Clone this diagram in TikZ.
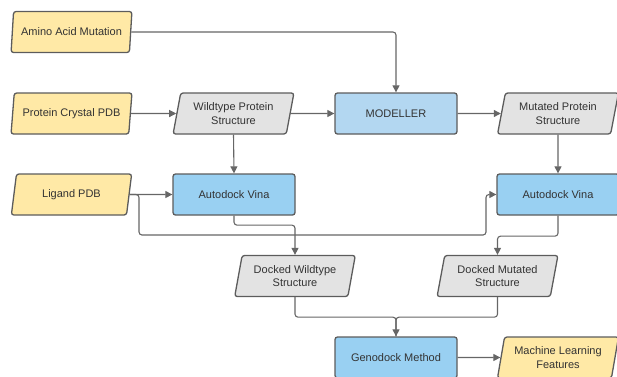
\documentclass[tikz,border=0pt]{standalone}
\usepackage{fontspec}
\setmainfont{Liberation Sans}
\usetikzlibrary{shapes.geometric,arrows.meta}
\definecolor{yel}{HTML}{FFE9A6}
\definecolor{blu}{HTML}{99D0F2}
\definecolor{lblu}{HTML}{B3D7F1}
\definecolor{gry}{HTML}{E3E3E3}
\definecolor{bord}{HTML}{5C5C5C}
\definecolor{txt}{HTML}{333333}
\definecolor{conn}{HTML}{666666}
\tikzset{
  base/.style={draw=bord, line width=1.3pt, rounded corners=2.5pt, text=txt,
    font=\fontsize{11}{13.5}\selectfont, align=center, inner sep=0pt},
  para/.style={base, trapezium, trapezium left angle=75, trapezium right angle=105,
    trapezium stretches=true, minimum width=121pt, minimum height=41pt},
  box/.style={base, rectangle, minimum width=122pt, minimum height=41pt},
  conn/.style={draw=conn, line width=1.1pt, rounded corners=3pt,
    -{Triangle[length=7pt,width=7pt]}},
  connl/.style={draw=conn, line width=1.1pt, rounded corners=3pt}
}
\begin{document}
\begin{tikzpicture}[x=1pt,y=-1pt]
\useasboundingbox (0,0) rectangle (617,376);
\node[para, fill=yel] (aam) at (71.5,32) {Amino Acid Mutation};
\node[para, fill=yel] (pcp) at (71.5,113.5) {Protein Crystal PDB};
\node[para, fill=yel] (lig) at (71.5,194.5) {Ligand PDB};
\node[para, fill=gry] (wt) at (233.5,113.5) {Wildtype Protein\\Structure};
\node[box, fill=blu] (adl) at (234,194.5) {Autodock Vina};
\node[box, fill=lblu] (mod) at (396,113.5) {MODELLER};
\node[para, fill=gry] (mut) at (558,113.5) {Mutated Protein\\Structure};
\node[box, fill=blu] (adr) at (558,194.5) {Autodock Vina};
\node[para, fill=gry] (dwt) at (295,276) {Docked Wildtype\\Structure};
\node[para, fill=gry] (dmt) at (497.5,276) {Docked Mutated\\Structure};
\node[box, fill=blu] (gen) at (396,357.5) {Genodock Method};
\node[para, fill=yel] (ml) at (558,357.5) {Machine Learning\\Features};

\coordinate (l1) at (139,235);
\coordinate (l2) at (486,235);

\draw[conn] (aam.east) -| (mod.north);
\draw[conn] (pcp.east) -- (wt.west);
\draw[conn] (wt.east) -- (mod.west);
\draw[conn] (mod.east) -- (mut.west);
\draw[conn] (wt.south) -- (adl.north);
\draw[conn] (mut.south) -- (adr.north);
\draw[conn] (lig.east) -- (adl.west);
\draw[conn] (lig.east) -| (l1) -- (l2) |- (adr.west);
\draw[conn] (adl.south) -- ++(0,9.5) -| (dwt.north);
\draw[conn] (adr.south) -- ++(0,20.5) -| (dmt.north);
\draw[connl] (dwt.south) -- ++(0,20) -| ([xshift=0.01pt]gen.north);
\draw[conn] (dmt.south) -- ++(0,20) -| (gen.north);
\draw[conn] (gen.east) -- (ml.west);
\end{tikzpicture}
\end{document}
